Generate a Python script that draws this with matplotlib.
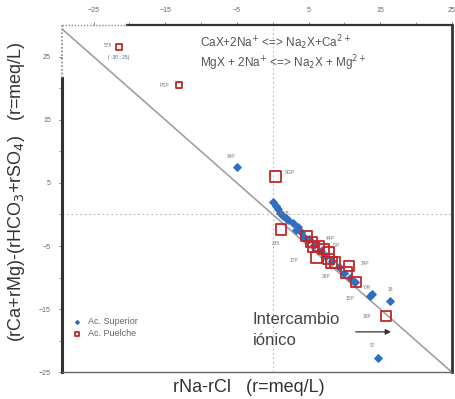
import matplotlib
matplotlib.use("Agg")
import matplotlib.pyplot as plt

plt.rcParams['font.family'] = ['Liberation Sans', 'DejaVu Sans']

# Ac. Superior (blue diamonds)
sup_x = [-5.0, 0.1, 0.4, 0.7, 1.0, 1.4, 1.8, 2.2, 2.8, 3.2, 3.5, 4.0, 4.3, 5.0,
         5.8, 6.7, 7.5, 8.3, 9.2, 10.0, 10.8, 11.5, 13.6, 13.9, 16.4, 14.7]
sup_y = [7.6, 1.9, 1.3, 0.8, 0.3, -0.2, -0.6, -0.9, -1.4, -2.4, -2.0, -2.7, -3.6, -3.9,
         -4.9, -5.8, -6.6, -7.4, -8.3, -9.3, -10.1, -10.7, -12.9, -12.6, -13.7, -22.8]

# Ac. Puelche (red open squares)
pue_x = [-21.4, -13.1, 0.4, 1.2, 4.7, 5.4, 5.7, 6.4, 6.1, 7.1, 7.8, 7.8, 8.2, 8.7,
         10.6, 10.3, 11.6, 15.8]
pue_y = [26.6, 20.5, 6.0, -2.4, -3.4, -4.4, -5.2, -5.0, -6.8, -5.5, -6.0, -7.1, -7.6,
         -7.6, -8.2, -9.2, -10.7, -16.1]

# small site labels (index in series, text, offset in points)
sup_labels = [(0, "34P", (-4, 7)), (1, "EEB", (8, -8)), (22, "YIR", (-2, 6)),
              (24, "18", (0, 8)), (25, "57", (-4, 9))]
pue_labels = [(0, "578", (-8, 1)), (1, "PSP", (-10, 0)), (2, "SGP", (10, 3)),
              (3, "235", (-4, -10)), (6, "44P", (12, 6)), (8, "17P", (-16, -2)),
              (10, "5.P", (6, 5)), (12, "26P", (-4, -10)), (14, "34P", (12, 2)),
              (16, "15P", (-4, -12)), (17, "18P", (-14, 0))]

x_ticks = [-25, -15, -5, 5, 15, 25]
y_ticks = [-25, -15, -5, 5, 15, 25]

fig = plt.figure(figsize=(4.56, 3.99), dpi=100)
ax = fig.add_axes([0.136, 0.067, 0.855, 0.87])
ax.set_xlim(-29.4, 25)
ax.set_ylim(-25, 30)

ax.plot([-30, 25], [30, -25], color='#a0a0a0', lw=1.2, zorder=1)
ax.axvline(0, color='#b8b8b8', lw=0.8, ls=(0, (1.5, 2.5)), zorder=0)
ax.axhline(0, color='#b8b8b8', lw=0.8, ls=(0, (1.5, 2.5)), zorder=0)

ax.scatter(sup_x, sup_y, marker='D', s=14, color='#2f6fc0', label='Ac. Superior', zorder=3)
# the two far points are drawn small and faint in the original
sizes = [18 if y > 15 else 55 for y in pue_y]
ax.scatter(pue_x, pue_y, marker='s', s=sizes, facecolors='none', edgecolors='#c0282a',
           linewidths=1.3, label='Ac. Puelche', zorder=4)

for i, txt, off in sup_labels:
    ax.annotate(txt, (sup_x[i], sup_y[i]), xytext=off, textcoords='offset points',
                fontsize=3.5, color='#777777', ha='center', va='center')
for i, txt, off in pue_labels:
    ax.annotate(txt, (pue_x[i], pue_y[i]), xytext=off, textcoords='offset points',
                fontsize=3.5, color='#777777', ha='center', va='center')
ax.text(-21.5, 24.8, "( -30 ; 25)", fontsize=3.5, color='#4060a0', ha='center', va='center')

# axis styling
ax.xaxis.tick_top()
ax.set_xticks(x_ticks)
ax.set_yticks(y_ticks)
ax.set_xticks(range(-25, 26, 5), minor=True)
ax.set_yticks(range(-25, 30, 5), minor=True)
ax.tick_params(axis='both', labelsize=5, colors='#666666', length=2, width=0.6, pad=6)
ax.tick_params(which='minor', length=2, width=0.6, colors='#888888')

for s in ['left', 'top', 'right', 'bottom']:
    ax.spines[s].set_color('#333333')
ax.spines['left'].set_linewidth(2.2)
ax.spines['top'].set_linewidth(1.6)
ax.spines['right'].set_linewidth(2.0)
ax.spines['bottom'].set_linewidth(1.0)
ax.spines['bottom'].set_color('#666666')
ax.spines['left'].set_bounds(-25, 21.6)
ax.spines['top'].set_bounds(-20.4, 25)
ax.plot([-29.4, -29.4], [21.6, 30], color='#888888', lw=1.2, ls=(0, (1, 1.2)),
        clip_on=False, zorder=5)
ax.plot([-29.4, -20.4], [30, 30], color='#888888', lw=1.0, ls=(0, (1, 1.2)),
        clip_on=False, zorder=5)

# reaction text
ax.text(-10.2, 27.3, r"CaX+2Na$^{+}$ <=> Na$_2$X+Ca$^{2+}$", fontsize=8.5, color='#555555',
        ha='left', va='center')
ax.text(-10.2, 24.0, r"MgX + 2Na$^{+}$ <=> Na$_2$X + Mg$^{2+}$", fontsize=8.5, color='#555555',
        ha='left', va='center')

ax.text(-2.8, -18.3, "Intercambio\niónico", fontsize=12, color='#444444',
        ha='left', va='center', linespacing=1.45)
ax.annotate("", xy=(16.9, -18.6), xytext=(11.2, -18.6),
            arrowprops=dict(arrowstyle='-|>', color='#333333', lw=0.9,
                            mutation_scale=8))

leg = ax.legend(loc='lower left', bbox_to_anchor=(0.0, 0.08), frameon=False, fontsize=6.5,
                handletextpad=0.2, labelspacing=0.35, markerscale=0.5, borderaxespad=0.3)
for t in leg.get_texts():
    t.set_color('#666666')

fig.text(0.545, 0.028, "rNa-rCl   (r=meq/L)", fontsize=13, color='#333333',
         ha='center', va='center')
fig.text(0.037, 0.52, r"(rCa+rMg)-(rHCO$_3$+rSO$_4$)   (r=meq/L)", fontsize=13,
         color='#333333', ha='center', va='center', rotation=90)

fig.savefig("out.png", dpi=100)
